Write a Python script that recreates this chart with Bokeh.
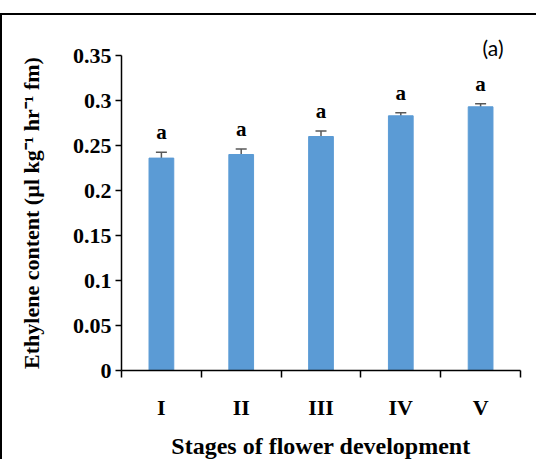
from bokeh.plotting import figure
from bokeh.models import ColumnDataSource, Whisker, TeeHead, FixedTicker, Title, InlineStyleSheet
from bokeh.core.properties import value
from bokeh.embed import file_html
from bokeh.resources import INLINE

# ---- data ----
stages = ["I", "II", "III", "IV", "V"]
ethylene = [0.236, 0.240, 0.260, 0.283, 0.293]
std_err = [0.0065, 0.006, 0.006, 0.0035, 0.0035]
letters = ["a", "a", "a", "a", "a"]
y_ticks = [0, 0.05, 0.1, 0.15, 0.2, 0.25, 0.3, 0.35]
y_tick_labels = ["0", "0.05", "0.1", "0.15", "0.2", "0.25", "0.3", "0.35"]
panel_tag = "(a)"

xs = list(range(1, len(stages) + 1))
src = ColumnDataSource(dict(
    x=xs,
    y=ethylene,
    upper=[v + e for v, e in zip(ethylene, std_err)],
    lower=[v - e for v, e in zip(ethylene, std_err)],
    letters=letters,
))

SERIF = "Liberation Serif"

p = figure(
    width=536, height=446,
    x_range=(0.5, len(stages) + 0.5), y_range=(0, 0.35),
    output_backend="svg", toolbar_location=None,
    min_border_left=119, min_border_right=18,
    min_border_top=40, min_border_bottom=78,
)
p.stylesheets = [InlineStyleSheet(css=":host { margin-top: 13px !important; border-top: 2px solid black !important; border-left: 2px solid black !important; }")]
p.outline_line_color = None
p.xgrid.visible = False
p.ygrid.visible = False
p.background_fill_color = "white"
p.border_fill_color = "white"

p.vbar(x="x", top="y", width=0.31, source=src, fill_color="#5B9BD5",
       line_color="#5B9BD5")

head_kw = dict(size=11, line_color="#595959", line_width=1.5)
p.add_layout(Whisker(base="x", upper="upper", lower="lower", source=src,
                     line_color="#595959", line_width=1.5,
                     upper_head=TeeHead(**head_kw), lower_head=TeeHead(**head_kw)))

p.text(x="x", y="upper", text="letters", source=src, y_offset=-8,
       text_align="center", text_baseline="bottom",
       text_font=value(SERIF), text_font_style="bold", text_font_size="21px",
       text_color="black")

p.add_layout(Title(text=panel_tag, align="right", offset=17, standoff=-8,
                   text_font="Lato", text_font_style="normal",
                   text_font_size="21px", text_color="black"), "above")

# y axis
ya = p.yaxis[0]
ya.ticker = FixedTicker(ticks=y_ticks)
ya.major_label_overrides = {t: l for t, l in zip(y_ticks, y_tick_labels)}
ya.minor_tick_line_color = None
ya.major_tick_in = 0
ya.major_tick_out = 6
ya.major_tick_line_width = 1.5
ya.axis_line_width = 1.5
ya.axis_line_color = "black"
ya.major_tick_line_color = "black"
ya.major_label_standoff = 4
ya.major_label_text_font = SERIF
ya.major_label_text_font_style = "bold"
ya.major_label_text_font_size = "22px"
ya.major_label_text_color = "black"
ya.axis_label = "Ethylene content (µl kg⁻¹ hr⁻¹ fm)"
ya.axis_label_text_font = SERIF
ya.axis_label_text_font_style = "bold"
ya.axis_label_text_font_size = "22px"
ya.axis_label_text_color = "black"
ya.axis_label_standoff = 26

# x axis
xa = p.xaxis[0]
xa.ticker = FixedTicker(ticks=xs, minor_ticks=[i + 0.5 for i in range(len(stages) + 1)])
xa.major_label_overrides = {x: s for x, s in zip(xs, stages)}
xa.major_tick_line_color = None
xa.major_tick_in = 0
xa.major_tick_out = 0
xa.minor_tick_in = 0
xa.minor_tick_out = 7
xa.minor_tick_line_color = "black"
xa.minor_tick_line_width = 1.5
xa.axis_line_width = 1.5
xa.axis_line_color = "black"
xa.major_label_standoff = 17
xa.major_label_text_font = SERIF
xa.major_label_text_font_style = "bold"
xa.major_label_text_font_size = "22px"
xa.major_label_text_color = "black"
xa.axis_label = "Stages of flower development"
xa.axis_label_text_font = SERIF
xa.axis_label_text_font_style = "bold"
xa.axis_label_text_font_size = "24px"
xa.axis_label_text_color = "black"
xa.axis_label_standoff = 10

open("out.html", "w").write(file_html(p, INLINE))
